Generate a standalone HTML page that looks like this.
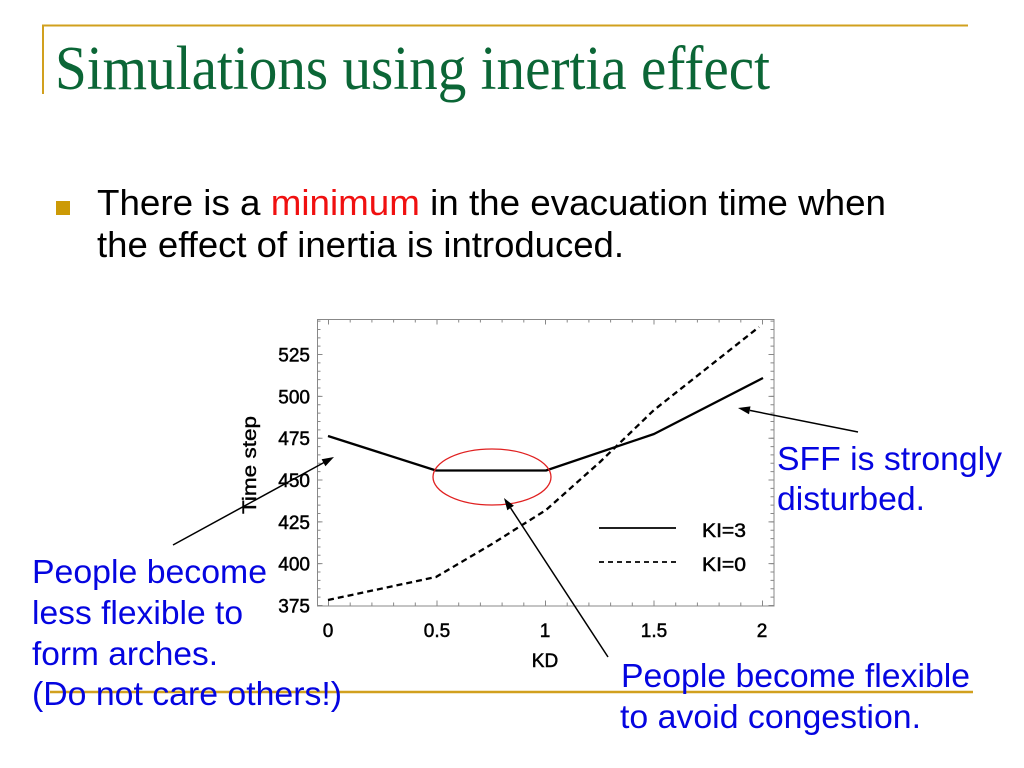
<!DOCTYPE html>
<html><head><meta charset="utf-8"><style>
html,body{margin:0;padding:0;background:#fff;}
svg{display:block;}
</style></head><body>
<svg width="1024" height="768" viewBox="0 0 1024 768" xmlns="http://www.w3.org/2000/svg">
<rect width="1024" height="768" fill="#fff"/>
<!-- gold decorations -->
<line x1="42" y1="25.5" x2="968" y2="25.5" stroke="#d1a01e" stroke-width="2"/>
<line x1="43" y1="25" x2="43" y2="94" stroke="#d1a01e" stroke-width="2"/>
<!-- title -->
<text x="55" y="89" font-family="Liberation Serif, serif" font-size="62" fill="#0b6636" textLength="715" lengthAdjust="spacingAndGlyphs">Simulations using inertia effect</text>
<!-- bullet -->
<rect x="56" y="201" width="14" height="14" fill="#cc9a06"/>
<text x="97" y="215" font-family="Liberation Sans, sans-serif" font-size="36" fill="#000" textLength="789" lengthAdjust="spacingAndGlyphs">There is a <tspan fill="#f01010">minimum</tspan> in the evacuation time when</text>
<text x="97" y="257" font-family="Liberation Sans, sans-serif" font-size="36" fill="#000" textLength="527" lengthAdjust="spacingAndGlyphs">the effect of inertia is introduced.</text>

<!-- chart frame -->
<rect x="317.5" y="319.5" width="456.5" height="286.5" fill="none" stroke="#888" stroke-width="1"/>
<line x1="319" y1="606" x2="319" y2="320" stroke="#888" stroke-width="3" stroke-dasharray="1 7.365"/>
<line x1="320" y1="606" x2="320" y2="320" stroke="#888" stroke-width="5" stroke-dasharray="1 40.825"/>
<line x1="772" y1="606" x2="772" y2="320" stroke="#888" stroke-width="3" stroke-dasharray="1 7.365"/>
<line x1="771" y1="606" x2="771" y2="320" stroke="#888" stroke-width="5" stroke-dasharray="1 40.825"/>
<line x1="328" y1="604" x2="774" y2="604" stroke="#888" stroke-width="3" stroke-dasharray="1 20.7"/>
<line x1="328" y1="603" x2="774" y2="603" stroke="#888" stroke-width="5" stroke-dasharray="1 107.5"/>
<line x1="328" y1="321" x2="774" y2="321" stroke="#888" stroke-width="3" stroke-dasharray="1 20.7"/>
<line x1="328" y1="322" x2="774" y2="322" stroke="#888" stroke-width="5" stroke-dasharray="1 107.5"/>

<!-- y tick labels -->
<g font-family="Liberation Sans, sans-serif" font-size="19" fill="#000" stroke="#000" stroke-width="0.5" text-anchor="end">
<text x="310" y="361.5">525</text>
<text x="310" y="403.4">500</text>
<text x="310" y="445.2">475</text>
<text x="310" y="487">450</text>
<text x="310" y="528.9">425</text>
<text x="310" y="570.7">400</text>
<text x="310" y="612.5">375</text>
</g>
<!-- x tick labels -->
<g font-family="Liberation Sans, sans-serif" font-size="19" fill="#000" stroke="#000" stroke-width="0.5" text-anchor="middle">
<text x="328" y="637">0</text>
<text x="437" y="637">0.5</text>
<text x="545" y="637">1</text>
<text x="654" y="637">1.5</text>
<text x="762" y="637">2</text>
<text x="545" y="667">KD</text>
</g>
<text transform="translate(256,465) rotate(-90)" font-family="Liberation Sans, sans-serif" font-size="19" fill="#000" stroke="#000" stroke-width="0.4" text-anchor="middle" textLength="98" lengthAdjust="spacingAndGlyphs">Time step</text>

<!-- data -->
<polyline points="328,436 436,470.5 546,470.5 654,434 763,378" fill="none" stroke="#000" stroke-width="2.3" stroke-linejoin="round"/>
<polyline points="328,600 436,577 492,544 546,510 600,462 654,410 759,327" fill="none" stroke="#000" stroke-width="2.3" stroke-dasharray="6 4"/>

<!-- legend -->
<line x1="599" y1="528" x2="676" y2="528" stroke="#000" stroke-width="1.8"/>
<line x1="599" y1="562" x2="676" y2="562" stroke="#000" stroke-width="1.8" stroke-dasharray="5 4"/>
<g font-family="Liberation Sans, sans-serif" font-size="19" fill="#000" stroke="#000" stroke-width="0.5">
<text x="702" y="537" textLength="44" lengthAdjust="spacingAndGlyphs">KI=3</text>
<text x="702" y="571" textLength="44" lengthAdjust="spacingAndGlyphs">KI=0</text>
</g>

<!-- red ellipse -->
<ellipse cx="492" cy="477" rx="59" ry="28" fill="none" stroke="#e02020" stroke-width="1.3"/>

<!-- bottom gold line -->
<line x1="50" y1="692" x2="973" y2="692" stroke="#d1a01e" stroke-width="2.5"/>

<!-- arrows -->
<g stroke="#000" stroke-width="1.5" fill="#000">
<line x1="173" y1="545" x2="324" y2="462.5"/>
<polygon points="334,457 325.4,466.3 321.6,459.3" stroke="none"/>
<line x1="608" y1="657" x2="510.6" y2="508"/>
<polygon points="504,498 513.9,505.8 507.3,510.2" stroke="none"/>
<line x1="858" y1="432" x2="749.8" y2="410.4"/>
<polygon points="738,408 750.5,406.4 749,414.3" stroke="none"/>
</g>

<!-- annotations -->
<g font-family="Liberation Sans, sans-serif" font-size="33" fill="#0505e0">
<text x="32" y="583" textLength="235" lengthAdjust="spacingAndGlyphs">People become</text>
<text x="32" y="624" textLength="211" lengthAdjust="spacingAndGlyphs">less flexible to</text>
<text x="32" y="665" textLength="186" lengthAdjust="spacingAndGlyphs">form arches.</text>
<text x="32" y="705" textLength="310" lengthAdjust="spacingAndGlyphs">(Do not care others!)</text>
<text x="777" y="470" textLength="225" lengthAdjust="spacingAndGlyphs">SFF is strongly</text>
<text x="777" y="510" textLength="148" lengthAdjust="spacingAndGlyphs">disturbed.</text>
<text x="621" y="687" textLength="349" lengthAdjust="spacingAndGlyphs">People become flexible</text>
<text x="620" y="728" textLength="301" lengthAdjust="spacingAndGlyphs">to avoid congestion.</text>
</g>
</svg>
</body></html>
